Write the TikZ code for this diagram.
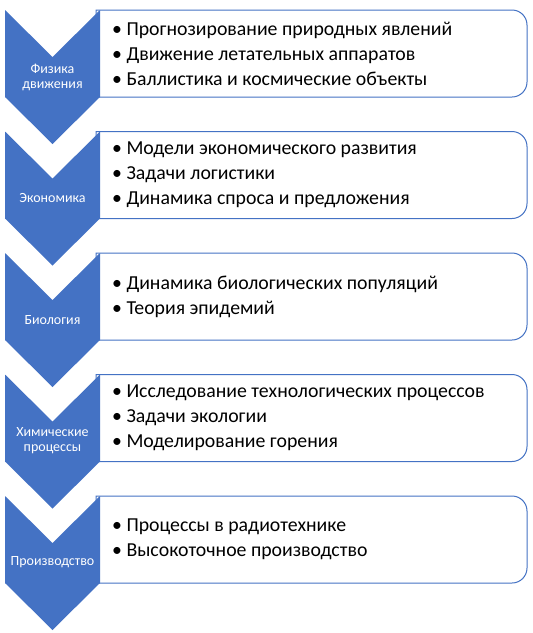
\documentclass[tikz,border=0pt]{standalone}
\usepackage{fontspec}
\setmainfont{Carlito}
\definecolor{oblue}{HTML}{4472C4}
\begin{document}
\begin{tikzpicture}[x=1pt,y=-1pt,
  chev/.style={fill=oblue,draw=oblue,line width=0.8pt},
  tbox/.style={fill=white,draw=oblue,line width=1pt},
  clabel/.style={text=white,align=center,font=\fontsize{14}{15}\selectfont},
  items/.style={anchor=west,align=left,inner sep=0pt,font=\fontsize{19.8}{25}\selectfont}]
\useasboundingbox (0,0) rectangle (533,633);
\foreach \t/\h in {10/87,131.5/87,253/87,374.5/87,496/87}{
  \draw[tbox] (96,\t) -- (512,\t) arc[start angle=90,end angle=0,x radius=15,y radius=-15]
     -- (527,\t+\h-15) arc[start angle=0,end angle=-90,x radius=15,y radius=-15]
     -- (96,\t+\h) -- cycle;
  \fill[oblue] (5,\t) -- (52.5,\t+47) -- (100,\t) -- (100,\t+\h) -- (52.5,\t+\h+47) -- (5,\t+\h) -- cycle;
}
\node[clabel] (c1) at (52.5,77) {Физика\\движения};
\node[clabel] (c2) at (52.5,198) {Экономика};
\node[clabel] (c3) at (52.5,320) {Биология};
\node[clabel] (c4) at (52.5,441) {Химические\\процессы};
\node[clabel] (c5) at (52.5,562) {Производство};
\node[items] (t1) at (112,53.5) {• Прогнозирование природных явлений\\• Движение летательных аппаратов\\• Баллистика и космические объекты};
\node[items] (t2) at (112,175) {• Модели экономического развития\\• Задачи логистики\\• Динамика спроса и предложения};
\node[items] (t3) at (112,296.5) {• Динамика биологических популяций\\• Теория эпидемий};
\node[items] (t4) at (112,418) {• Исследование технологических процессов\\• Задачи экологии\\• Моделирование горения};
\node[items] (t5) at (112,539.5) {• Процессы в радиотехнике\\• Высокоточное производство};
\end{tikzpicture}
\end{document}
